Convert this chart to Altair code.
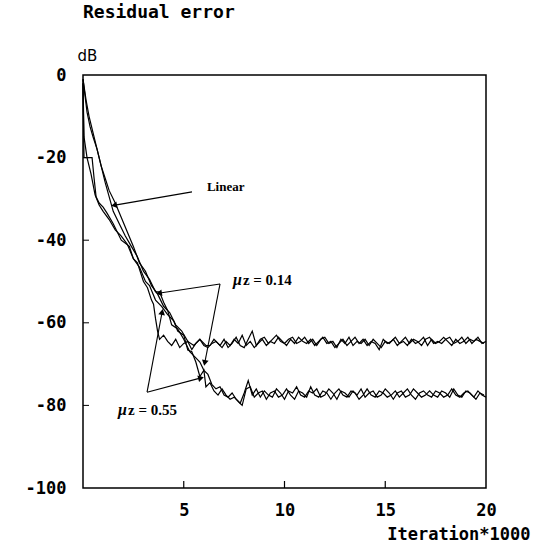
import math
import altair as alt
import pandas as pd

# ---------------- data ----------------
x_tick_values = [5, 10, 15, 20]
y_tick_values = [0, -20, -40, -60, -80, -100]
inner_x_ticks = [5, 10, 15]
inner_y_ticks = [-20, -40, -60, -80]

# upper plateau (about -65 dB), sampled every 0.2 from 4.2 to 20
upper_plateau = [
    -64.5, -65.5, -64, -66, -65, -64.5, -66.5, -65, -64, -65.5,
    -66, -65, -64.5, -65.5, -64, -66, -65, -63.5, -65.5, -66,
    -64, -62, -65.5, -64, -63.5, -65, -64, -63, -64.5, -65,
    -64, -63.5, -65, -64.5, -63.5, -65, -64, -65.5, -64, -63.5,
    -65, -64.5, -66, -64, -65, -63.5, -65.5, -64.5, -65, -64,
    -65.5, -64, -65, -66, -64.5, -65, -64, -65.5, -64.5, -63.5,
    -65, -64, -64.5, -65.5, -64, -63.5, -65, -64.5, -65, -64,
    -63.5, -65, -64.5, -63.5, -65, -64, -64.5, -63.5, -65, -64.5,
]
upper_plateau_x = [round(4.2 + 0.2 * i, 1) for i in range(len(upper_plateau))]

# second trace on the upper plateau, every 0.2 from 6.3 to 19.9
upper_plateau_b = [
    -65.5, -64, -65, -66, -64.5, -65.5, -64, -65, -63, -65.5,
    -64.5, -66, -65, -64, -65.5, -64.5, -65, -63.5, -64.5, -65.5,
    -64, -65, -63.5, -64.5, -65, -64, -65.5, -64.5, -63.5, -65,
    -64.5, -66, -65, -64, -65.5, -64.5, -63.5, -65, -64, -65.5,
    -64.5, -65, -66.5, -64, -65, -64.5, -63.5, -65, -64.5, -65.5,
    -64, -65, -64.5, -63.5, -65.5, -64, -65, -64.5, -63.5, -64.5,
    -65.5, -64, -65, -64.5, -63.5, -65, -64, -64.5, -65,
]
upper_plateau_b_x = [round(6.3 + 0.2 * i, 1) for i in range(len(upper_plateau_b))]

# lower plateau (about -77 dB), sampled every 0.2 from 7.4 to 20
lower_plateau = [
    -77, -78.5, -79.5, -77, -74, -77.5, -76, -78, -76.5, -77.5,
    -78, -76, -77, -78.5, -76.5, -77, -75.5, -77.5, -78, -76.5,
    -77, -76, -78, -77.5, -76, -77, -78.5, -76.5, -77, -78,
    -76.5, -77.5, -76, -78, -77, -76.5, -78, -77.5, -76, -77,
    -78.5, -77, -76.5, -78, -77.5, -76, -77, -78, -77.5, -76.5,
    -77.5, -78, -76.5, -77, -78, -76, -77.5, -78, -76.5, -77,
    -78, -76.5, -77.5, -78,
]
lower_plateau_x = [round(7.4 + 0.2 * i, 1) for i in range(len(lower_plateau))]

# second trace on the lower plateau, every 0.2 from 7.5 to 19.9
lower_plateau_b = [
    -78, -79, -80, -76, -75.5, -78, -77, -76.5, -78.5, -77,
    -76.5, -78, -77.5, -76, -77.5, -78.5, -76.5, -77, -78, -75.5,
    -77.5, -78, -76.5, -77, -78.5, -77, -76, -77.5, -78, -76.5,
    -77, -78.5, -77.5, -76, -77.5, -78, -76.5, -77, -78, -77.5,
    -76.5, -78, -77, -76, -77.5, -78.5, -77, -76.5, -77.5, -78,
    -76.5, -77, -78, -77.5, -76, -77.5, -78, -77, -76.5, -77.5,
    -78.5, -77, -77.5,
]
lower_plateau_b_x = [round(7.5 + 0.2 * i, 1) for i in range(len(lower_plateau_b))]

linear_x = [0, 0.1, 0.2, 0.35, 0.5, 0.7, 0.9, 1.1, 1.3, 1.6, 1.9, 2.2, 2.5,
            2.8, 3.1, 3.4, 3.7, 4.0, 4.3, 4.6, 4.9, 5.2, 5.5, 5.8, 6.1] + upper_plateau_b_x
linear_y = [-1, -5, -9, -12.5, -15, -18, -22, -25, -28, -31, -34.5, -38, -41.5,
            -45.5, -47.5, -51, -53, -56, -57.5, -60.5, -62, -64.5, -65.5, -64, -65.5] + upper_plateau_b

fast_x = [0, 0.05, 0.45, 0.55, 0.65, 0.8, 1.0, 1.2, 1.5, 1.9, 2.3, 2.5, 2.7,
          3.0, 3.2, 3.4, 3.5, 3.6, 3.7, 3.8, 4.0] + upper_plateau_x
fast_y = [-2, -20, -20, -25, -29.5, -31, -32, -33.5, -36, -40, -41.5, -44.5, -45.5,
          -50, -51.5, -54.5, -55.5, -59, -62, -64, -63] + upper_plateau

mu14_x = [0, 0.15, 0.3, 0.5, 0.7, 0.9, 1.1, 1.3, 1.5, 1.8, 2.1, 2.4, 2.7, 3.0,
          3.3, 3.6, 3.8, 4.0, 4.2, 4.4, 4.7, 5.0, 5.3, 5.6, 5.8, 6.0, 6.2, 6.4,
          6.6, 6.8, 7.0, 7.2] + lower_plateau_x
mu14_y = [-1, -6, -10, -14, -18, -22, -26, -29.5, -33, -36, -39, -41.5, -44, -47.5,
          -49.5, -52.5, -52.5, -55, -57, -60.5, -61.5, -64, -67, -68.5, -69.5, -71.5,
          -72.5, -75, -76, -75.5, -77.5, -78] + lower_plateau

mu55_x = [0, 0.05, 0.2, 0.4, 0.6, 0.8, 1.0, 1.3, 1.6, 1.9, 2.2, 2.5, 2.8, 3.1,
          3.3, 3.6, 3.9, 4.2, 4.5, 4.7, 5.0, 5.2, 5.4, 5.6, 5.8, 6.0, 6.1, 6.3,
          6.5, 6.7, 6.9, 7.1, 7.3] + lower_plateau_b_x
mu55_y = [-2, -15, -20, -24, -29, -31.5, -33, -35, -37.5, -39, -41, -44.5, -46.5,
          -50, -51, -54.5, -56, -58, -59.5, -62, -63, -66.6, -67, -69.5,
          -73, -71.5, -75.5, -74.5, -76.5, -77.5, -76, -77.5, -78.5] + lower_plateau_b

# annotations (data units)
ann_x1 = [5.41, 6.80, 6.80, 3.18, 3.18]
ann_y1 = [-28.3, -50.6, -50.6, -76.8, -76.8]
ann_x2 = [1.59, 3.82, 6.05, 3.92, 5.81]
ann_y2 = [-31.5, -52.8, -69.5, -57.6, -73.4]
linear_label = "Linear"
linear_label_x = 6.15
linear_label_y = -27.1
mu_symbol = ["μ", "μ"]
mu_rest = ["z = 0.14", "z = 0.55"]
mu_label_x = [7.44, 1.74]
mu_label_y = [-49.6, -81.1]

# ---------------- layout ----------------
W, H = 403, 413
PX_PER_X = W / 20.0
PX_PER_Y = H / 100.0
MONO = "DejaVu Sans Mono"
SERIF = "Liberation Serif"

rows = []
for name, xs, ys in [("Linear", linear_x, linear_y), ("Linear fast", fast_x, fast_y),
                     ("mu 0.14", mu14_x, mu14_y), ("mu 0.55", mu55_x, mu55_y)]:
    for i, (a, b) in enumerate(zip(xs, ys)):
        rows.append({"series": name, "i": i, "x": a, "y": b})
curves = pd.DataFrame(rows)

xscale = alt.Scale(domain=[0, 20], nice=False, zero=False)
yscale = alt.Scale(domain=[-100, 0], nice=False, zero=False)

lines = alt.Chart(curves).mark_line(color="black", strokeWidth=1.2).encode(
    x=alt.X("x:Q", scale=xscale, axis=alt.Axis(
        values=x_tick_values, grid=False, ticks=False, tickSize=0, domain=False,
        labelFont=MONO, labelFontSize=17, labelFontWeight="bold", labelColor="black",
        labelPadding=14, labelFlush=False, labelOverlap=False,
        title="Iteration*1000", titleFont=MONO, titleFontSize=17, titleFontWeight="bold",
        titleColor="black", titleX=447, titleY=46, titleAlign="right",
        titleBaseline="middle")),
    y=alt.Y("y:Q", scale=yscale, axis=alt.Axis(
        values=y_tick_values, grid=False, ticks=False, tickSize=0, domain=False,
        labelExpr="datum.value < 0 ? '-' + abs(datum.value) : '' + datum.value",
        labelFont=MONO, labelFontSize=17, labelFontWeight="bold", labelColor="black",
        labelPadding=17, labelFlush=False, labelOverlap=False,
        title="dB", titleAngle=0, titleFont="DejaVu Sans", titleFontSize=15,
        titleFontWeight="normal", titleColor="black", titleX=4, titleY=-20,
        titleAlign="center", titleBaseline="middle")),
    detail="series:N",
    order="i:Q",
)

ytick_df = pd.DataFrame({"y": inner_y_ticks})
yticks = alt.Chart(ytick_df).mark_rule(color="black", strokeWidth=1).encode(
    y=alt.Y("y:Q", scale=yscale), x=alt.value(0), x2=alt.value(6))

xtick_df = pd.DataFrame({"x": inner_x_ticks})
xticks = alt.Chart(xtick_df).mark_rule(color="black", strokeWidth=1.2).encode(
    x=alt.X("x:Q", scale=xscale), y=alt.value(H), y2=alt.value(H - 7))

ann_df = pd.DataFrame({"x1": ann_x1, "y1": ann_y1, "x2": ann_x2, "y2": ann_y2})
ann_df["angle"] = [
    math.degrees(math.atan2((a2 - a1) * PX_PER_X, (b2 - b1) * PX_PER_Y)) % 360
    for a1, b1, a2, b2 in zip(ann_x1, ann_y1, ann_x2, ann_y2)
]
arrows = alt.Chart(ann_df).mark_rule(color="black", strokeWidth=1.1).encode(
    x=alt.X("x1:Q", scale=xscale), y=alt.Y("y1:Q", scale=yscale),
    x2="x2:Q", y2="y2:Q")
heads = alt.Chart(ann_df).mark_point(shape="triangle", filled=True, color="black",
                                     size=45, opacity=1).encode(
    x=alt.X("x2:Q", scale=xscale), y=alt.Y("y2:Q", scale=yscale),
    angle=alt.Angle("angle:Q", scale=None))

lin_df = pd.DataFrame({"t": [linear_label], "x": [linear_label_x], "y": [linear_label_y]})
lin_label = alt.Chart(lin_df).mark_text(align="left", baseline="middle", font=SERIF,
                                        fontSize=13, fontWeight="bold", color="black").encode(
    x=alt.X("x:Q", scale=xscale), y=alt.Y("y:Q", scale=yscale), text="t:N")

mu_df = pd.DataFrame({"m": mu_symbol, "r": mu_rest, "x": mu_label_x, "y": mu_label_y})
mu_sym = alt.Chart(mu_df).mark_text(align="left", baseline="middle", font=SERIF,
                                    fontSize=16, fontStyle="italic", fontWeight="bold",
                                    color="black").encode(
    x=alt.X("x:Q", scale=xscale), y=alt.Y("y:Q", scale=yscale), text="m:N")
mu_txt = alt.Chart(mu_df).mark_text(align="left", baseline="middle", font=SERIF,
                                    fontSize=15, fontWeight="bold", color="black",
                                    dx=10).encode(
    x=alt.X("x:Q", scale=xscale), y=alt.Y("y:Q", scale=yscale), text="r:N")

title_df = pd.DataFrame({"t": ["Residual error"]})
title = alt.Chart(title_df).mark_text(align="left", baseline="middle", font=MONO,
                                      fontSize=18, fontWeight="bold", color="black").encode(
    x=alt.value(0), y=alt.value(-62), text="t:N")

chart = alt.layer(lines, yticks, xticks, arrows, heads, lin_label, mu_sym, mu_txt,
                  title).properties(
    width=W, height=H,
    padding={"left": 83, "top": 75, "right": 47, "bottom": 56},
    autosize=alt.AutoSizeParams(type="none"),
    background="white",
).configure_view(stroke="black", strokeWidth=1.5)

chart.save("out.html", embed_options={"renderer": "svg", "actions": False})
